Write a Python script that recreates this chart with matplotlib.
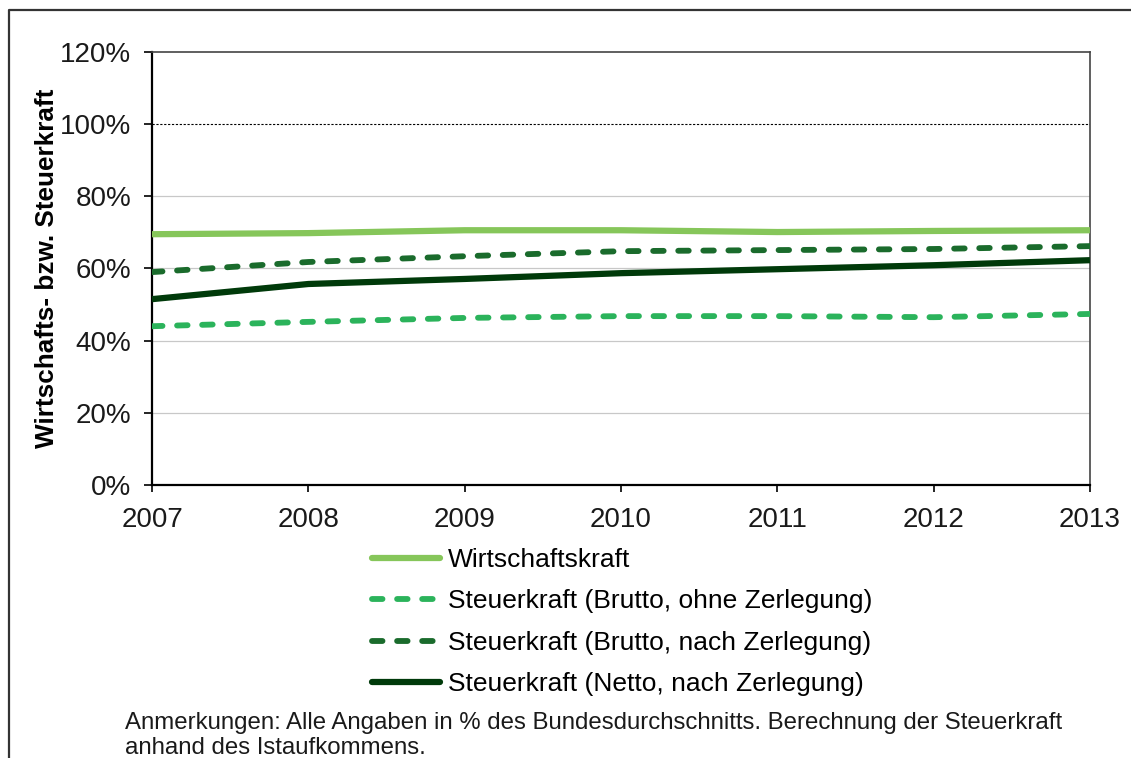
import matplotlib
matplotlib.use("Agg")
from matplotlib import pyplot as plt
from matplotlib.lines import Line2D

plt.rcParams['font.family'] = ['Liberation Sans', 'DejaVu Sans']

years = [2007, 2008, 2009, 2010, 2011, 2012, 2013]
wirtschaftskraft = [69.5, 69.8, 70.6, 70.6, 70.1, 70.4, 70.6]
brutto_ohne = [44.0, 45.2, 46.3, 46.8, 46.8, 46.5, 47.4]
brutto_nach = [59.0, 61.8, 63.4, 64.8, 65.1, 65.4, 66.2]
netto_nach = [51.5, 55.7, 57.1, 58.7, 59.8, 60.9, 62.3]

labels = [
    "Wirtschaftskraft",
    "Steuerkraft (Brutto, ohne Zerlegung)",
    "Steuerkraft (Brutto, nach Zerlegung)",
    "Steuerkraft (Netto, nach Zerlegung)",
]
y_ticks = [0, 20, 40, 60, 80, 100, 120]
note = ("Anmerkungen: Alle Angaben in % des Bundesdurchschnitts. Berechnung der Steuerkraft\n"
        "anhand des Istaufkommens.")

fig = plt.figure(figsize=(11.31, 7.58), dpi=100)
ax = fig.add_axes([0.1344, 0.3602, 0.8293, 0.5712])

# grid
for v in [20, 40, 60, 80]:
    ax.axhline(v, color='#C8C8C8', lw=0.9, zorder=1)
ax.axhline(100, color='black', lw=0.8, ls=(0, (2, 1.5)), zorder=1)

dash = (1.8, 2.5)
ax.plot(years, wirtschaftskraft, color='#86C65A', lw=4.5, solid_capstyle='butt', zorder=3)
ax.plot(years, brutto_ohne, color='#2BB35B', lw=4.2, dashes=dash,
        dash_capstyle='round', zorder=3)
ax.plot(years, brutto_nach, color='#1A6B2C', lw=4.2, dashes=dash,
        dash_capstyle='round', zorder=3)
ax.plot(years, netto_nach, color='#003A0A', lw=4.5, solid_capstyle='butt', zorder=4)

ax.set_xlim(years[0], years[-1])
ax.set_ylim(0, 120)
ax.set_xticks(years)
ax.set_yticks(y_ticks)
ax.set_yticklabels([f"{v}%" for v in y_ticks])
ax.tick_params(axis='both', labelsize=20, direction='out', length=6, width=1.2,
               color='black', labelcolor='#1a1a1a')
ax.tick_params(axis='x', pad=11, length=5)
ax.tick_params(axis='y', pad=9)
ax.set_ylabel("Wirtschafts- bzw. Steuerkraft", fontsize=18.8, fontweight='bold')
ax.yaxis.set_label_coords(-0.099, 0.5)

for s in ['left', 'bottom']:
    ax.spines[s].set_color('black')
    ax.spines[s].set_linewidth(1.6)
for s in ['top', 'right']:
    ax.spines[s].set_color('#444444')
    ax.spines[s].set_linewidth(1.2)

handles = [
    Line2D([], [], color='#86C65A', lw=4.5, solid_capstyle='round'),
    Line2D([], [], color='#2BB35B', lw=4.2, dashes=dash, dash_capstyle='round'),
    Line2D([], [], color='#1A6B2C', lw=4.2, dashes=dash, dash_capstyle='round'),
    Line2D([], [], color='#003A0A', lw=4.5, solid_capstyle='round'),
]
fig.legend(handles, labels, loc='upper left', bbox_to_anchor=(0.329, 0.277),
           frameon=False, fontsize=19, handlelength=2.58, handletextpad=0.3,
           labelspacing=0.66, borderpad=0, borderaxespad=0)

fig.text(125 / 1131, 1 - 712 / 758, note, fontsize=17.3, va='top', ha='left',
         color='#1a1a1a', linespacing=1.2)

# outer frame (top and left only)
fig.add_artist(Line2D([9 / 1131, 9 / 1131, 1.0], [0.0, 1 - 10 / 758, 1 - 10 / 758],
                      transform=fig.transFigure, color='#333333', lw=1.6))

fig.savefig("out.png", dpi=100)
